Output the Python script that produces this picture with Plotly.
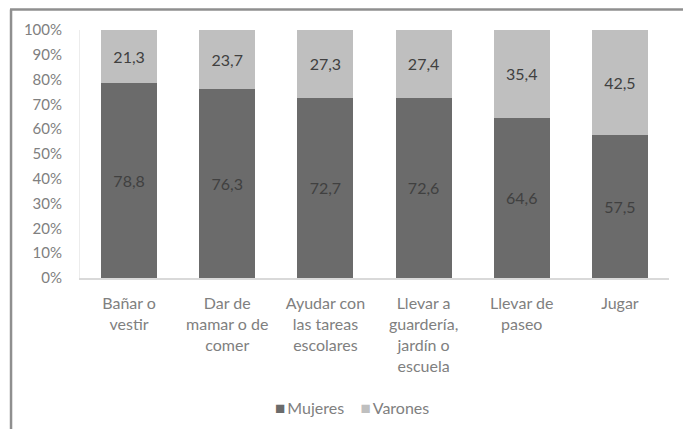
import plotly.graph_objects as go

# Share of each childcare task carried out by women and men (%)
tareas = [
    "Bañar o<br>vestir",
    "Dar de<br>mamar o de<br>comer",
    "Ayudar con<br>las tareas<br>escolares",
    "Llevar a<br>guardería,<br>jardín o<br>escuela",
    "Llevar de<br>paseo",
    "Jugar",
]
mujeres = [78.8, 76.3, 72.7, 72.6, 64.6, 57.5]
varones = [21.3, 23.7, 27.3, 27.4, 35.4, 42.5]
y_ticks = list(range(0, 101, 10))
y_tick_labels = [f"{v}%" for v in y_ticks]

COLOR_MUJERES = "#6b6b6b"
COLOR_VARONES = "#bfbfbf"
FONT = "Lato"
AXIS_TEXT = "#808080"
LABEL_TEXT = "#404040"

fig = go.Figure()
for nombre, valores, color in [
    ("Mujeres", mujeres, COLOR_MUJERES),
    ("Varones", varones, COLOR_VARONES),
]:
    fig.add_trace(go.Bar(
        name=nombre,
        x=tareas,
        y=valores,
        marker=dict(color=color, line=dict(width=0)),
        texttemplate="%{y:.1f}",
        textposition="inside",
        insidetextanchor="middle",
        textangle=0,
        textfont=dict(family=FONT, size=16, color=LABEL_TEXT),
        showlegend=False,
        hoverinfo="skip",
    ))

fig.update_layout(
    barmode="stack",
    bargap=0.43,
    separators=",.",
    width=683,
    height=429,
    margin=dict(l=80, r=14, t=30, b=151),
    paper_bgcolor="white",
    plot_bgcolor="white",
    font=dict(family=FONT, size=16, color=AXIS_TEXT),
    xaxis=dict(
        showgrid=False,
        showline=True,
        linecolor="#d9d9d9",
        linewidth=2,
        ticks="",
        tickfont=dict(family=FONT, size=16, color=AXIS_TEXT),
        ticklabelstandoff=10,
    ),
    yaxis=dict(
        range=[0, 100],
        tickmode="array",
        tickvals=y_ticks,
        ticktext=y_tick_labels,
        showgrid=False,
        zeroline=False,
        showline=True,
        linecolor="#ececec",
        linewidth=1,
        ticks="",
        ticklabelstandoff=14,
        tickfont=dict(family=FONT, size=15, color=AXIS_TEXT),
    ),
)

# Legend drawn as a single centred line of text under the categories
fig.add_annotation(
    xref="paper", yref="paper",
    x=0.462, y=-0.524,
    xanchor="center", yanchor="middle",
    showarrow=False,
    text=(f"<span style='color:{COLOR_MUJERES};font-size:17px'>■</span>&#8201;Mujeres"
          f"&nbsp;&nbsp;&nbsp;&nbsp;"
          f"<span style='color:{COLOR_VARONES};font-size:17px'>■</span>&#8201;Varones"),
    font=dict(family=FONT, size=16, color=AXIS_TEXT),
)

# Chart-area frame (top and left edges)
frame = dict(color="#8f8f8f", width=2.5)
fig.add_shape(type="line", xref="paper", yref="paper",
              x0=-0.1188, x1=1.06, y0=1.0827, y1=1.0827, line=frame)
fig.add_shape(type="line", xref="paper", yref="paper",
              x0=-0.1171, x1=-0.1171, y0=1.0827, y1=-0.66, line=frame)

fig.write_html("out.html")
